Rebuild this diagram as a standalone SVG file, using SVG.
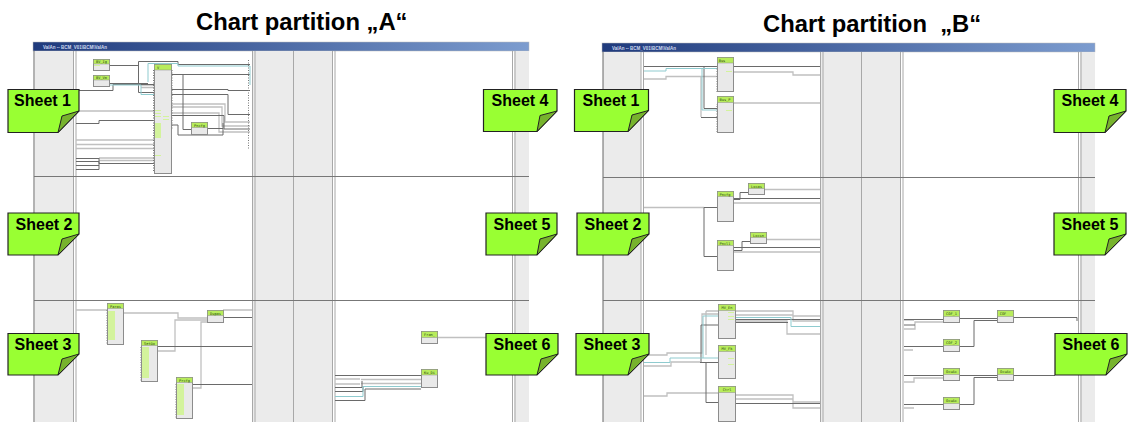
<svg xmlns="http://www.w3.org/2000/svg" width="1129" height="422" viewBox="0 0 1129 422">
<defs><linearGradient id="tb" x1="0" x2="1" y1="0" y2="0"><stop offset="0" stop-color="#1f3a7c"/><stop offset="1" stop-color="#7c9ccf"/></linearGradient></defs>
<style>
.t{font:bold 23.800px "Liberation Sans",Arial,sans-serif;fill:#000;white-space:pre}
.s{font:bold 16px "Liberation Sans",Arial,sans-serif;fill:#000;text-anchor:middle}
.n{font:3.6px "DejaVu Sans Mono","Liberation Mono",monospace;fill:#2a4a10;text-anchor:middle}
.w{font:bold 4.500px "Liberation Sans",Arial,sans-serif;fill:#cfd8ee}
.bar{fill:url(#tb);stroke:#bbb;stroke-width:.5}
.pane{fill:#ebebeb}
.div{stroke:#a8a8a8;stroke-width:1;fill:none}
.frame{stroke:#666;stroke-width:1;fill:none}
.h{stroke:#777;stroke-width:1}
.body{fill:#e9e9e9;stroke:#8c8c8c;stroke-width:1}
.head{fill:#b8ec5c;stroke:#8c8c8c;stroke-width:.5}
.gb{fill:#d3f39c}
.d{fill:none;stroke:#6a6a6a;stroke-width:1}
.l{fill:none;stroke:#c0c0c0;stroke-width:1.300}
.c{fill:none;stroke:#8fcbcf;stroke-width:1}
.p{fill:none;stroke:#777;stroke-width:1;stroke-dasharray:1 1.500}
.note{fill:#99ff33;stroke:#222;stroke-width:1.200}
.fold{fill:#77b32d;stroke:#222;stroke-width:1}
</style>
<text class="t" x="196" y="30">Chart partition „A“</text>
<text class="t" x="763" y="32">Chart partition  „B“</text>

<g id="window-a">
<rect x="34" y="42" width="495" height="380" fill="#fff"/>
<rect class="bar" x="33" y="42" width="496" height="9"/>
<text class="w" x="43" y="48.500">ValAn -- BCM_V01\BCM\ValAn</text>
<rect class="pane" x="35" y="51" width="38" height="371"/>
<rect class="pane" x="253" y="51" width="80" height="371"/>
<rect class="pane" x="514" y="51" width="15" height="371"/>
<path class="frame" d="M34 51V422"/>
<path class="div" d="M73.500 51V422M76 51V422M252.500 51V422M255 51V422M293.500 51V422M332.500 51V422M335 51V422M512.500 51V422M515 51V422"/>
<path class="h" d="M34 176.500H529M34 300.500H529"/>
</g>
<g id="window-b">
<rect x="603" y="43" width="492" height="379" fill="#fff"/>
<rect class="bar" x="602" y="43" width="493" height="9"/>
<text class="w" x="612" y="49.500">ValAn -- BCM_V01\BCM\ValAn</text>
<rect class="pane" x="603" y="52" width="38" height="370"/>
<rect class="pane" x="821" y="52" width="80" height="370"/>
<rect class="pane" x="1080" y="52" width="15" height="370"/>
<path class="frame" d="M603 52V422"/>
<path class="div" d="M641 52V422M643.500 52V422M820.500 52V422M823 52V422M861.500 52V422M900.500 52V422M903 52V422M1078.500 52V422M1081 52V422"/>
<path class="h" d="M603 177.500H1095M603 300.500H1095"/>
</g>

<g id="connectors">
<!-- A sheet 1 -->
<path class="l" d="M141 85H154M141 87.500H154M76 111H154M76 140H154M76 144.500H154M76 148.500H154M99 158H154M99 160.500H154M171 104H225V122H250M171 107H222V126H250M171 113H219V132H250"/>
<path class="d" d="M110 65.500H138.500M138.500 61.500V92.500H154M138.500 61.500H178V64.500H250M110 83.500H148M76 90.500H113V84.500H154M76 123.500H99V120.500H154M76 158.500H99M76 161.500H99V163.500H154M76 165.500H99M76 169.500H99V158M171 74.500H250M183 74.500V129.500H191M171 89.500H228V90.500H250M171 94.500H228V114.500H250M171 115.500H224V129H250M171 125H178V135H223V123M208 128.500H223"/>
<path class="c" d="M110 85H141V94.500H154M148 82V63.500H178V66H250V85"/>
<path class="p" d="M248.500 60V150M153.500 70V172M172 70V130"/>
<!-- A sheet 3 -->
<path class="l" d="M76 310H107M124 313H178V318H207M223 310H252M158 351H175V320H207M193 388H201V322H207"/>
<path class="d" d="M223 317.500H252M158 346.500H252M193 384.500H252"/>
<path class="p" d="M107 310V344M141 347V381M176 384V418"/>
<!-- A sheet 6 -->
<path class="l" d="M438 337.500H486M361 379.500H421M361 383.500H421M335 379H360M335 384H360"/>
<path class="d" d="M335 375.500H421M335 387.500H362V381M335 391.500H363V386.500H421M335 400.500H365V389H421"/>
<path class="c" d="M335 396.500H363V386.500H421"/>
<!-- B sheet 1 -->
<path class="l" d="M644 79H666V76.500H717M734 72H793V75H820M734 103H820M701 77V117"/>
<path class="d" d="M644 66.500H717M734 66.500H820M704 66.500V108.500H717M701 117.500H717"/>
<path class="c" d="M644 71H666V68.500H717M702 68.500V110H717"/>
<path class="p" d="M717 92V66M717 132V104"/>
<!-- B sheet 2 -->
<path class="l" d="M644 207.500H704M765 189.500H820M734 203H820M767 239.500H820M734 252H820"/>
<path class="d" d="M704 207.500H717M704 207.500V256.500H717M734 199.500H740V192.500H748M734 198.500H820M734 250.500H742V241.500H750M734 247.500H820"/>
<!-- B sheet 3 -->
<path class="l" d="M644 355H667V353H702V314H718M706 311H718M706 311V355M644 366H671V362H700M644 396H667V393H718M735 311H793V316H820M735 315H793V321H820M735 321H787V334H820M735 395H793V402H820M735 399H793V408H820"/>
<path class="d" d="M701 362.500V325H718M700 362.500H718M706 362V402.500H718M735 319.500H820M735 403.500H820M735 322.500H788"/>
<path class="c" d="M644 362.500H670V358H718M703 358V316H718M735 317.500H791V326.500H820"/>
<!-- B right -->
<path class="l" d="M904 320H914M904 329H915V322H943M904 350H913M904 382H914V378H943M904 408H914"/>
<path class="d" d="M904 319.500H943M960 318.500H997M1014 317.500H1077V321M904 346.500H943M960 346.500H974V320.500H997M904 375.500H943M960 375.500H997M1014 375.500H1055M904 404.500H943M960 404.500H974V377.500H997M904 325H915"/>
</g>

<g id="node-bv-ig"><rect class="body" x="93.500" y="59.500" width="16" height="11"/><rect class="head" x="93.500" y="59.500" width="16" height="4.500"/><text class="n" x="101.500" y="63">BV_Ig</text><rect class="gb" x="94" y="65" width="6" height="1"/></g>
<g id="node-bv-vm"><rect class="body" x="93.500" y="75.500" width="16" height="11"/><rect class="head" x="93.500" y="75.500" width="16" height="4.500"/><text class="n" x="101.500" y="79">BV_Vm</text></g>
<g id="node-v"><rect class="body" x="154.500" y="64.500" width="17" height="109"/><rect class="head" x="154.500" y="64.500" width="17" height="5.500"/><text class="n" x="158" y="69">V</text>
<path class="gb" d="M155 110h6v1h-6zM155 113h6v1h-6zM155 116h6v1h-6zM163 116h6v1h-6zM163 119h6v1h-6zM155 123h6v15h-6zM155 155h6v1h-6z"/></g>
<g id="node-pncfg"><rect class="body" x="191.500" y="122.500" width="16" height="12"/><rect class="head" x="191.500" y="122.500" width="16" height="5"/><text class="n" x="199.500" y="126.500">Pncfg</text></g>
<g id="node-paras"><rect class="body" x="107.500" y="303.500" width="16" height="41"/><rect class="head" x="107.500" y="303.500" width="16" height="5"/><text class="n" x="115.500" y="307.500">Paras</text><rect class="gb" x="108" y="311" width="7" height="29"/></g>
<g id="node-setuo"><rect class="body" x="141.500" y="340.500" width="16" height="41"/><rect class="head" x="141.500" y="340.500" width="16" height="5"/><text class="n" x="149.500" y="344.500">Setüo</text><rect class="gb" x="142" y="347" width="7" height="31"/></g>
<g id="node-prcfg"><rect class="body" x="176.500" y="377.500" width="16" height="41"/><rect class="head" x="176.500" y="377.500" width="16" height="5"/><text class="n" x="184.500" y="381.500">Prcfg</text><rect class="gb" x="177" y="384" width="7" height="31"/></g>
<g id="node-dupas"><rect class="body" x="207.500" y="310.500" width="16" height="12"/><rect class="head" x="207.500" y="310.500" width="16" height="5"/><text class="n" x="215.500" y="314.500">Dupas</text></g>
<g id="node-fran"><rect class="body" x="421.500" y="331.500" width="16" height="12"/><rect class="head" x="421.500" y="331.500" width="16" height="6"/><text class="n" x="429.500" y="336">Fran_</text></g>
<g id="node-ku-di"><rect class="body" x="421.500" y="369.500" width="16" height="18"/><rect class="head" x="421.500" y="369.500" width="16" height="5.500"/><text class="n" x="429.500" y="373.500">Ku_Di</text></g>

<g id="node-bus"><rect class="body" x="717.500" y="57.500" width="16" height="34"/><rect class="head" x="717.500" y="57.500" width="16" height="5.500"/><text class="n" x="722" y="61.500">Bus</text><rect class="gb" x="726" y="71" width="6" height="1"/></g>
<g id="node-bus-p"><rect class="body" x="717.500" y="96.500" width="16" height="36"/><rect class="head" x="717.500" y="96.500" width="16" height="6"/><text class="n" x="725" y="101">Bus_P</text><rect class="gb" x="726" y="110" width="6" height="1"/></g>
<g id="node-pncfg-b"><rect class="body" x="717.500" y="191.500" width="16" height="30"/><rect class="head" x="717.500" y="191.500" width="16" height="5"/><text class="n" x="725" y="195.500">Pncfg</text></g>
<g id="node-pncl1"><rect class="body" x="717.500" y="240.500" width="16" height="30"/><rect class="head" x="717.500" y="240.500" width="16" height="5"/><text class="n" x="725" y="244.500">Pncl1</text></g>
<g id="node-locas"><rect class="body" x="748.500" y="183.500" width="16" height="11"/><rect class="head" x="748.500" y="183.500" width="16" height="5"/><text class="n" x="756.500" y="187.500">Locas</text></g>
<g id="node-locsn"><rect class="body" x="750.500" y="232.500" width="16" height="11"/><rect class="head" x="750.500" y="232.500" width="16" height="5"/><text class="n" x="758.500" y="236.500">Locsn</text></g>
<g id="node-mv-en"><rect class="body" x="718.500" y="304.500" width="17" height="34"/><rect class="head" x="718.500" y="304.500" width="17" height="6"/><text class="n" x="727" y="309">MV_En</text><rect class="gb" x="728" y="312" width="6" height="1"/><rect class="gb" x="728" y="316" width="6" height="1"/><rect class="gb" x="728" y="319" width="6" height="1"/></g>
<g id="node-mv-fk"><rect class="body" x="718.500" y="345.500" width="17" height="33"/><rect class="head" x="718.500" y="345.500" width="17" height="6"/><text class="n" x="727" y="350">MV_Fk</text><rect class="gb" x="728" y="358" width="6" height="1"/><rect class="gb" x="728" y="364" width="6" height="1"/></g>
<g id="node-ctrl"><rect class="body" x="718.500" y="386.500" width="17" height="35"/><rect class="head" x="718.500" y="386.500" width="17" height="6"/><text class="n" x="727" y="391">Ctrl</text></g>
<g id="node-cof-1"><rect class="body" x="943.500" y="310.500" width="16" height="12"/><rect class="head" x="943.500" y="310.500" width="16" height="6"/><text class="n" x="951.500" y="315">COF_1</text></g>
<g id="node-cof-2"><rect class="body" x="943.500" y="339.500" width="16" height="12"/><rect class="head" x="943.500" y="339.500" width="16" height="6"/><text class="n" x="951.500" y="344">COF_2</text></g>
<g id="node-cof"><rect class="body" x="997.500" y="310.500" width="16" height="12"/><rect class="head" x="997.500" y="310.500" width="16" height="6"/><text class="n" x="1003" y="315">COF</text></g>
<g id="node-ocu-1"><rect class="body" x="943.500" y="368.500" width="16" height="12"/><rect class="head" x="943.500" y="368.500" width="16" height="6"/><text class="n" x="951.500" y="373">OcuAc</text></g>
<g id="node-ocu-2"><rect class="body" x="943.500" y="397.500" width="16" height="12"/><rect class="head" x="943.500" y="397.500" width="16" height="6"/><text class="n" x="951.500" y="402">OcuAc</text></g>
<g id="node-ocu"><rect class="body" x="997.500" y="368.500" width="16" height="12"/><rect class="head" x="997.500" y="368.500" width="16" height="6"/><text class="n" x="1005.500" y="373">OcuAc</text></g>

<g id="sheet-a1"><path class="note" d="M8 89.500H79V111L58 132.500H8Z"/><path class="fold" d="M79 111L62 116L58 132.500Z"/><text class="s" x="42.500" y="106">Sheet 1</text></g>
<g id="sheet-a2"><path class="note" d="M8 213H79V234L58 255H8Z"/><path class="fold" d="M79 234L62 239L58 255Z"/><text class="s" x="44" y="230">Sheet 2</text></g>
<g id="sheet-a3"><path class="note" d="M8 333.500H79V354L58 375H8Z"/><path class="fold" d="M79 354L62 359L58 375Z"/><text class="s" x="43" y="350">Sheet 3</text></g>
<g id="sheet-a4"><path class="note" d="M483.500 89.500H557V111L537 131.500H483.500Z"/><path class="fold" d="M557 111L540 115.500L537 131.500Z"/><text class="s" x="520" y="106">Sheet 4</text></g>
<g id="sheet-a5"><path class="note" d="M486 213H557V234L537 255H486Z"/><path class="fold" d="M557 234L540 239L537 255Z"/><text class="s" x="522" y="230">Sheet 5</text></g>
<g id="sheet-a6"><path class="note" d="M486 333.500H558V354L537 375H486Z"/><path class="fold" d="M558 354L541 359L537 375Z"/><text class="s" x="522" y="350">Sheet 6</text></g>
<g id="sheet-b1"><path class="note" d="M574.500 89.500H648.500V110.500L628 131.500H574.500Z"/><path class="fold" d="M648.500 110.500L632 115L628 131.500Z"/><text class="s" x="611" y="106">Sheet 1</text></g>
<g id="sheet-b2"><path class="note" d="M577 213H649V234L628 255H577Z"/><path class="fold" d="M649 234L632 239L628 255Z"/><text class="s" x="613" y="230">Sheet 2</text></g>
<g id="sheet-b3"><path class="note" d="M576 333.500H649V354L628 375H576Z"/><path class="fold" d="M649 354L632 359L628 375Z"/><text class="s" x="612" y="350">Sheet 3</text></g>
<g id="sheet-b4"><path class="note" d="M1054 89.500H1126V111L1105 132.500H1054Z"/><path class="fold" d="M1126 111L1109 116L1105 132.500Z"/><text class="s" x="1090" y="106">Sheet 4</text></g>
<g id="sheet-b5"><path class="note" d="M1054 213H1126V234L1105 255H1054Z"/><path class="fold" d="M1126 234L1109 239L1105 255Z"/><text class="s" x="1090" y="230">Sheet 5</text></g>
<g id="sheet-b6"><path class="note" d="M1055 333.500H1127V354L1106 375H1055Z"/><path class="fold" d="M1127 354L1110 359L1106 375Z"/><text class="s" x="1091" y="350">Sheet 6</text></g>
</svg>
